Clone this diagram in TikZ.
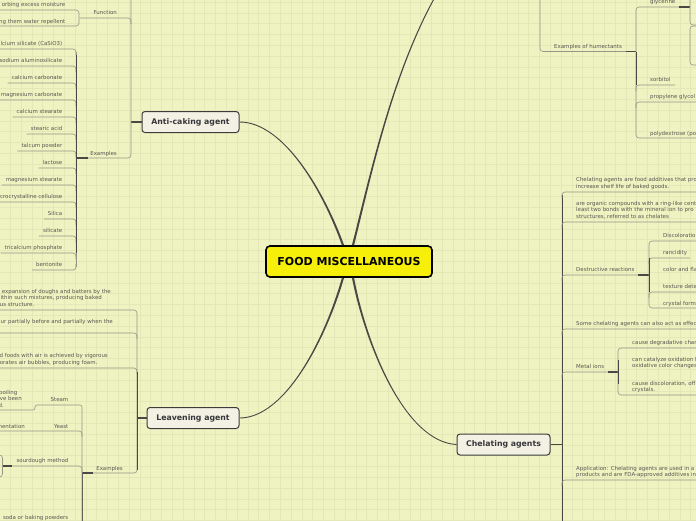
\documentclass[tikz,border=0pt]{standalone}
\usepackage{fontspec}
\setmainfont{DejaVu Sans}
\usetikzlibrary{calc}
\definecolor{bgc}{RGB}{239,242,193}
\definecolor{gridc}{RGB}{228,232,183}
\definecolor{ulc}{RGB}{150,150,135}
\definecolor{dkc}{RGB}{72,72,68}
\definecolor{txc}{RGB}{88,88,82}
\definecolor{nfill}{RGB}{243,241,228}
\definecolor{ndraw}{RGB}{60,60,60}
\definecolor{ntext}{RGB}{55,55,60}
\definecolor{cfill}{RGB}{246,239,10}
\tikzset{
 sm/.style={font=\fontsize{5.45}{6.5}\selectfont, text=txc, inner sep=0pt},
 topic/.style={draw=ndraw, fill=nfill, line width=1pt, rounded corners=3pt, font=\bfseries\fontsize{7.8}{9}\selectfont, text=ntext, minimum height=21pt, inner sep=0pt},
 central/.style={draw=black, fill=cfill, line width=1.6pt, rounded corners=4pt, font=\bfseries\fontsize{11}{13}\selectfont, text=black, minimum width=166pt, minimum height=31pt, inner sep=0pt},
 ul/.style={draw=ulc, line width=0.6pt, rounded corners=3pt},
 dk/.style={draw=dkc, line width=1.1pt},
 dkv/.style={draw=dkc, line width=0.9pt},
 mainc/.style={fill=dkc, draw=none},
}
\newcommand\ulL[3]{\draw[ul] ($(#1.west |- 0,#2)+(-4,0)$) -| (#3,#2+6);}
\begin{document}
\begin{tikzpicture}[x=1pt,y=-1pt]
\useasboundingbox (0,0) rectangle (696,520);
\fill[bgc] (0,0) rectangle (696,520);
\begin{scope}
\clip (0,0) rectangle (696,520);
\foreach \i in {0,...,65} \draw[gridc,line width=0.45pt] ({\i*10.8-0.6},0) -- ({\i*10.8-0.6},520);
\foreach \j in {0,...,49} \draw[gridc,line width=0.45pt] (0,{\j*10.8+2}) -- (696,{\j*10.8+2});

% main nodes
\node[central] (cen) at (349,261.5) {FOOD MISCELLANEOUS};
\node[topic, minimum width=97pt] (ac) at (190.5,122) {Anti-caking agent};
\node[topic, minimum width=92pt] (lv) at (193,418) {Leavening agent};
\node[topic, minimum width=93pt] (ch) at (503.5,444.5) {Chelating agents};
\coordinate (hum) at (445,-20);

% main curves (tapered: thick at the centre, thin at the topics)
\fill[mainc] ($(ac.east)+(0,0.45)$) .. controls (285,122.55) and (324.19,195.27) .. ($(cen.north)+(-7,0.33)$)
  -- ($(cen.north)+(-5,-0.33)$) .. controls (325.81,194.73) and (285,121.45) .. ($(ac.east)+(0,-0.45)$) -- cycle;
\fill[mainc] ($(lv.east)+(0,0.45)$) .. controls (285,418.55) and (325.82,340.23) .. ($(cen.south)+(-5,0.29)$)
  -- ($(cen.south)+(-7,-0.29)$) .. controls (324.18,339.77) and (285,417.45) .. ($(lv.east)+(0,-0.45)$) -- cycle;
\fill[mainc] ($(cen.north)+(5.02,0.26)$) .. controls (372.82,170.21) and (395.47,60.29) .. ($(hum)+(0.38,0.24)$)
  -- ($(hum)+(-0.38,-0.24)$) .. controls (394.53,59.71) and (371.18,169.79) .. ($(cen.north)+(2.98,-0.26)$) -- cycle;
\fill[mainc] ($(cen.south)+(2.97,0.2)$) .. controls (365.17,345.16) and (405,442.55) .. ($(ch.west)+(0,0.45)$)
  -- ($(ch.west)+(0,-0.45)$) .. controls (405,441.45) and (366.83,344.84) .. ($(cen.south)+(5.03,-0.2)$) -- cycle;

% ---------- Anti-caking agent ----------
\draw[dk] (ac.west) -- (131,122);
\draw[ul] (131,-5) -- (131,158) -- (88,158);
\draw[ul] (80,18) -| (131,24);
\draw[ul] (-3,10) -- (79,10) -- (79,26) -- (-3,26);
\node[sm, anchor=base east] (f1) at (65.5,6) {orbing excess moisture};
\node[sm, anchor=base east] (f2) at (65.5,23) {ng them water repellent};
\node[sm, anchor=base east] (fn) at (117,14) {Function};
\node[sm, anchor=base east] (exa) at (117,155) {Examples};
\draw[dk] (76,158) -- (88,158);

\node[sm, anchor=base east] (e1) at (62.5,45) {lcium silicate (CaSiO3)};
\node[sm, anchor=base east] (e2) at (62.5,62) {sodium aluminosilicate};
\node[sm, anchor=base east] (e3) at (62.5,79) {calcium carbonate};
\node[sm, anchor=base east] (e4) at (62.5,96) {magnesium carbonate};
\node[sm, anchor=base east] (e5) at (62.5,113) {calcium stearate};
\node[sm, anchor=base east] (e6) at (62.5,130) {stearic acid};
\node[sm, anchor=base east] (e7) at (62.5,147) {talcum powder};
\node[sm, anchor=base east] (e8) at (62.5,164) {lactose};
\node[sm, anchor=base east] (e9) at (62.5,181) {magnesium stearate};
\node[sm, anchor=base east] (e10) at (62.5,198) {crocrystalline cellulose};
\node[sm, anchor=base east] (e11) at (62.5,215) {Silica};
\node[sm, anchor=base east] (e12) at (62.5,232) {silicate};
\node[sm, anchor=base east] (e13) at (62.5,249) {tricalcium phosphate};
\node[sm, anchor=base east] (e14) at (62.5,266) {bentonite};
\ulL{e1}{49}{76}
\ulL{e2}{66}{76}
\ulL{e3}{83}{76}
\ulL{e4}{100}{76}
\ulL{e5}{117}{76}
\ulL{e6}{134}{76}
\ulL{e7}{151}{76}
\ulL{e8}{168}{76}
\ulL{e9}{185}{76}
\ulL{e10}{202}{76}
\ulL{e11}{219}{76}
\ulL{e12}{236}{76}
\ulL{e13}{253}{76}
\draw[ul] ($(e14.west |- 0,270)+(-4,0)$) -| (76,264);
\draw[ul] (76,52) -- (76,267);
\draw[dkv] (76,55) -- (76,253);

% ---------- Leavening agent ----------
\draw[dk] (lv.west) -- (137,418);
\draw[ul] (-3,310) -- (137,310) -- (137,473) -- (92,473);
\draw[ul] (-3,333) -| (137,339);
\draw[ul] (-3,368) -| (137,374);
\draw[dkv] (137,372) -- (137,470);
\node[sm, anchor=base east] (l1) at (111,293) {expansion of doughs and batters by the};
\node[sm, anchor=base east] (l2) at (102,299.5) {ithin such mixtures, producing baked};
\node[sm, anchor=base east] (l3) at (34.5,306) {us structure.};
\node[sm, anchor=base east] (l4) at (113,323) {ur partially before and partially when the};
\node[sm, anchor=base east] (l5) at (108,357) {d foods with air is achieved by vigorous};
\node[sm, anchor=base east] (l6) at (97.5,364) {orates air bubbles, producing foam.};
\node[sm, anchor=base east] (exl) at (123,470) {Examples};
\draw[dk] (82,473) -- (93,473);
\draw[dkv] (82,473) -- (82,530);

\node[sm, anchor=base east] (st) at (68.5,401) {Steam};
\node[sm, anchor=base east] (s1) at (17.5,394) {boiling};
\node[sm, anchor=base east] (s2) at (22,400.5) {ve been};
\node[sm, anchor=base east] (s3) at (4,407) {d.};
\draw[ul, rounded corners=2pt] (-3,410) -- (35,410) -- (35,405) -- (82,405) -- (82,530);

\node[sm, anchor=base east] (ye) at (68.5,428) {Yeast};
\node[sm, anchor=base east] (y1) at (25,428) {nentation};
\draw[ul] (-3,431) -| (82,437);

\node[sm, anchor=base east] (sd) at (68.5,462) {sourdough method};
\draw[ul] (12,466) -| (82,472);
\draw[dk] (2.5,466) -- (12,466);
\draw[ul] (-6,455) -- (2.5,455) -- (2.5,477) -- (-6,477);

\node[sm, anchor=base east] (so) at (68.5,519) {soda or baking powders};

% ---------- Humectants (top right) ----------
\draw[ul] (540,-5) -- (540,51.5) -- (626,51.5);
\node[sm, anchor=base west] (exh) at (554,48) {Examples of humectants};
\draw[dk] (626,51.5) -- (636,51.5);
\draw[ul] (679,7) -- (636,7) -- (636,138) -- (700,138);
\draw[ul] (636,91) |- (675,85);
\draw[ul] (636,108) |- (700,102);
\draw[dkv] (636,51.5) -- (636,85);
\draw[dk] (679,7) -- (690,7);
\draw[ul] (690,-5) -- (690,25) -- (700,25);
\draw[ul] (700,26) -- (690,26) -- (690,65) -- (700,65);
\node[sm, anchor=base west] (h1) at (650,3) {glycerine};
\node[sm, anchor=base west] (h2) at (650,81) {sorbitol};
\node[sm, anchor=base west] (h3) at (650,98) {propylene glycol};
\node[sm, anchor=base west] (h4) at (650,135) {polydextrose (po};

% ---------- Chelating agents ----------
\draw[dk] (ch.east) -- (562,444.5);
\draw[dkv] (562,195) -- (562,530);
\draw[ul] (562,198) |- (700,192);
\draw[ul] (562,228) |- (700,222);
\draw[ul] (562,281) |- (638,275);
\draw[dk] (638,275) -- (649,275);
\draw[ul] (700,241) -- (649,241) -- (649,308) -- (700,308);
\draw[ul] (649,264) |- (690,258);
\draw[ul] (649,298) |- (700,292);
\draw[dkv] (649,258) -- (649,292);
\draw[ul] (562,335) |- (700,329);
\draw[ul] (562,378) |- (608,372);
\draw[dk] (608,372) -- (618,372);
\draw[ul] (700,348) -- (618,348) -- (618,395) -- (700,395);
\draw[dkv] (618,360) -- (618,384);
\draw[ul] (562,486) |- (700,480);

\node[sm, anchor=base west] (c1) at (576,181) {Chelating agents are food additives that pro};
\node[sm, anchor=base west] (c2) at (576,188) {increase shelf life of baked goods.};
\node[sm, anchor=base west] (c3) at (576,205) {are organic compounds with a ring-like cent};
\node[sm, anchor=base west] (c4) at (576,211.5) {least two bonds with the mineral ion to pro};
\node[sm, anchor=base west] (c5) at (576,218) {structures, referred to as chelates};
\node[sm, anchor=base west] (dr) at (576,271) {Destructive reactions};
\node[sm, anchor=base west] (d1) at (663,237) {Discoloratio};
\node[sm, anchor=base west] (d2) at (663,254) {rancidity};
\node[sm, anchor=base west] (d3) at (663,271) {color and fla};
\node[sm, anchor=base west] (d4) at (663,288) {texture dete};
\node[sm, anchor=base west] (d5) at (663,305) {crystal form};
\node[sm, anchor=base west] (c6) at (576,325) {Some chelating agents can also act as effec};
\node[sm, anchor=base west] (mi) at (576,368) {Metal ions};
\node[sm, anchor=base west] (m1) at (632,344) {cause degradative char};
\node[sm, anchor=base west] (m2) at (632,361) {can catalyze oxidation l};
\node[sm, anchor=base west] (m3) at (632,367) {oxidative color changes};
\node[sm, anchor=base west] (m4) at (632,385) {cause discoloration, off};
\node[sm, anchor=base west] (m5) at (632,391) {crystals.};
\node[sm, anchor=base west] (ap1) at (576,470) {Application: Chelating agents are used in a};
\node[sm, anchor=base west] (ap2) at (576,476) {products and are FDA-approved additives in};
\end{scope}
\end{tikzpicture}
\end{document}
